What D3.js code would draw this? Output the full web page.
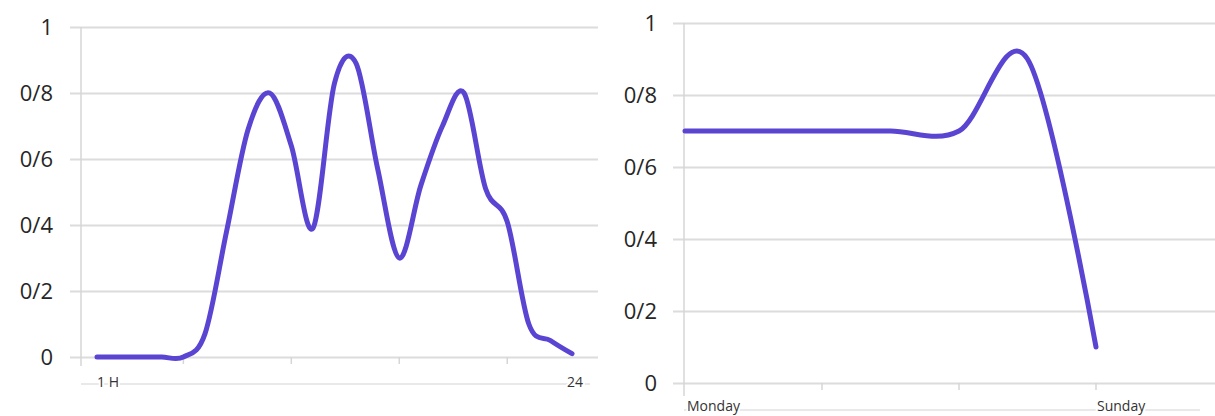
<!DOCTYPE html>
<html>
<head>
<meta charset="utf-8">
<script src="https://cdn.jsdelivr.net/npm/d3@7"></script>
<style>
  body { margin: 0; background: #fff; }
  svg { display: block; }
</style>
</head>
<body>
<div id="chart"></div>
<script>
var WIDTH = 1215, HEIGHT = 416;

// data
var yTicks = [0, 0.2, 0.4, 0.6, 0.8, 1];
var hourValues = [0, 0, 0, 0, 0, 0.07, 0.38, 0.69, 0.80, 0.64, 0.39, 0.83, 0.89, 0.57, 0.30, 0.52, 0.70, 0.80, 0.51, 0.41, 0.10, 0.05, 0.01];
var hourLabels = ["1 H", "24"];
var hourTicks = [4, 9, 14, 19];
var dayValues = [0.70, 0.70, 0.70, 0.70, 0.70, 0.90, 0.10];
var dayLabels = ["Monday", "Sunday"];
var dayTicks = [2, 4, 6];

var LINE_COLOR = "#5a44d2";
var GRID_COLOR = "#dcdcdc";

var svg = d3.select("#chart").append("svg")
  .attr("width", WIDTH)
  .attr("height", HEIGHT);

// format 0.8 -> "0/8"
function fmt(d) {
  if (d === 0) return "0";
  if (d === 1) return "1";
  return d3.format(".1f")(d).replace(".", "/");
}

function panel(opts) {
  var x = d3.scaleLinear().domain([0, opts.values.length - 1]).range([opts.x0, opts.x1]);
  var y = d3.scaleLinear().domain([0, 1]).range([opts.yBottom, opts.yTop]);
  var g = svg.append("g");

  // gridlines + y labels
  var yAxis = d3.axisLeft(y)
    .tickValues(yTicks)
    .tickSize(-(opts.gridRight - opts.axisX))
    .tickPadding(opts.labelPad)
    .tickFormat(fmt);
  var ga = g.append("g")
    .attr("transform", "translate(" + opts.axisX + ",0)")
    .call(yAxis);
  ga.select(".domain").remove();
  ga.selectAll(".tick line")
    .attr("x1", -11)
    .attr("stroke", GRID_COLOR)
    .attr("stroke-width", 2);
  ga.selectAll(".tick text")
    .style("font-family", "Open Sans")
    .style("font-size", "22px")
    .attr("fill", "#262626");

  // vertical axis line
  g.append("line")
    .attr("x1", opts.axisX).attr("x2", opts.axisX)
    .attr("y1", opts.yTop).attr("y2", opts.axisBottom)
    .attr("stroke", "#d6d6d6").attr("stroke-width", 1.5);

  // second level band line under labels
  g.append("line")
    .attr("x1", opts.bandX0).attr("x2", opts.bandX1)
    .attr("y1", opts.bandY).attr("y2", opts.bandY)
    .attr("stroke", "#e2e2e2").attr("stroke-width", 1.5);

  // small tick marks on the baseline
  g.selectAll(".xt").data(opts.ticks).enter().append("line")
    .attr("x1", function(d){ return x(d); })
    .attr("x2", function(d){ return x(d); })
    .attr("y1", opts.yBottom).attr("y2", opts.yBottom + 7)
    .attr("stroke", "#d6d6d6").attr("stroke-width", 1.5);

  // x labels at first and last category
  g.selectAll(".xl").data(opts.labels).enter().append("text")
    .attr("x", function(d, i){ return (i === 0 ? x(0) : x(opts.values.length - 1)) + opts.labelDx[i]; })
    .attr("y", opts.labelY)
    .style("font-family", "Open Sans")
    .style("font-size", opts.labelSize)
    .attr("fill", "#333")
    .attr("stroke", "#fff").attr("stroke-width", 4)
    .style("paint-order", "stroke")
    .text(function(d){ return d; });

  // the smoothed line
  var line = d3.line()
    .x(function(d, i){ return x(i); })
    .y(function(d){ return y(d); })
    .curve(d3.curveCardinal.tension(0));
  g.append("path")
    .datum(opts.values)
    .attr("d", line)
    .attr("fill", "none")
    .attr("stroke", LINE_COLOR)
    .attr("stroke-width", 5)
    .attr("stroke-linecap", "round")
    .attr("stroke-linejoin", "round");
}

panel({
  values: hourValues, ticks: hourTicks, labels: hourLabels,
  x0: 97, x1: 572, yBottom: 357, yTop: 27,
  axisX: 81, gridRight: 598, axisBottom: 366, labelPad: 28,
  bandX0: 81, bandX1: 590, bandY: 384,
  labelY: 387, labelSize: "14px", labelDx: [0, -5]
});

panel({
  values: dayValues, ticks: dayTicks, labels: dayLabels,
  x0: 685, x1: 1096, yBottom: 383, yTop: 23,
  axisX: 684, gridRight: 1215, axisBottom: 396, labelPad: 27,
  bandX0: 684, bandX1: 1200, bandY: 410,
  labelY: 411, labelSize: "14px", labelDx: [2, 1]
});
</script>
</body>
</html>
